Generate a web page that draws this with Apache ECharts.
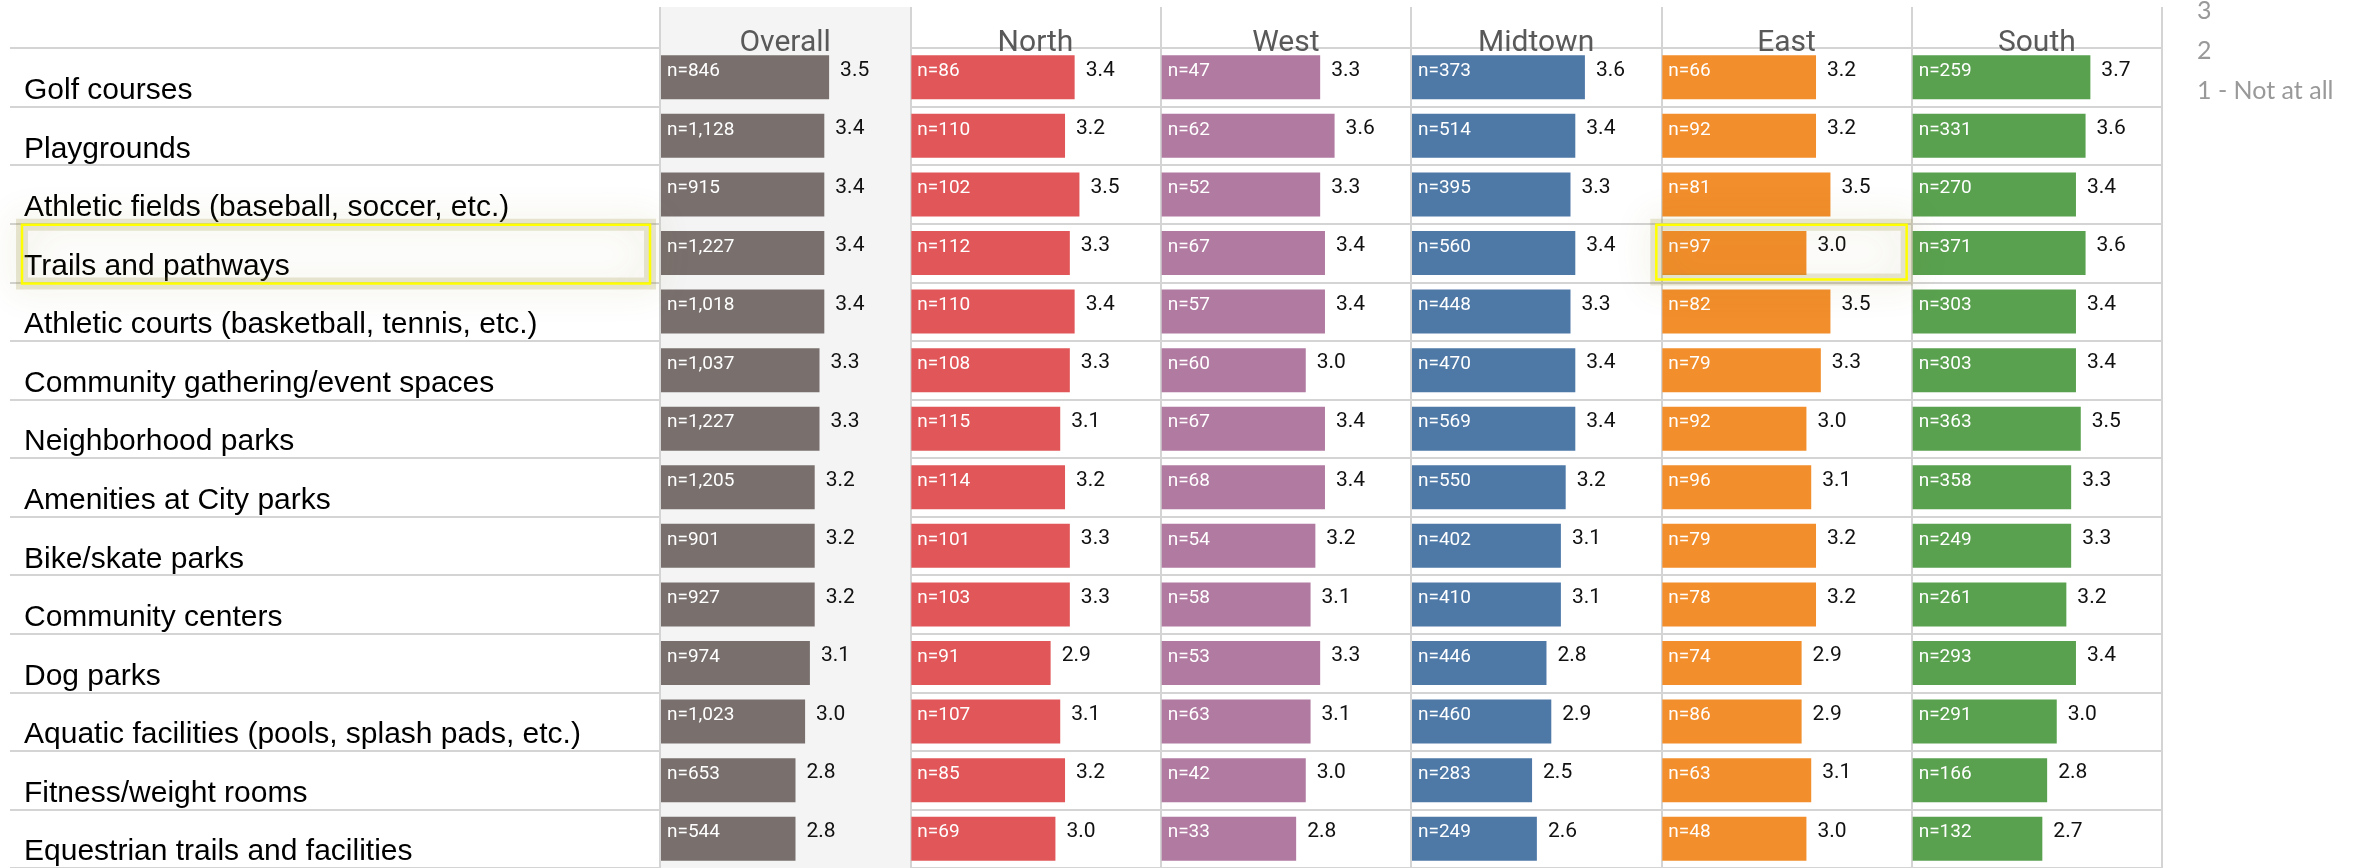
<!DOCTYPE html>
<html>
<head>
<meta charset="utf-8">
<title>Park amenities by region</title>
<script src="https://cdn.jsdelivr.net/npm/echarts@6/dist/echarts.min.js"></script>
<style>
  html, body { margin: 0; padding: 0; background: #fff; }
  #chart { width: 2379px; height: 868px; }
</style>
</head>
<body>
<div id="chart"></div>
<script>
// rows of the table
const categories = [
  'Golf courses',
  'Playgrounds',
  'Athletic fields (baseball, soccer, etc.)',
  'Trails and pathways',
  'Athletic courts (basketball, tennis, etc.)',
  'Community gathering/event spaces',
  'Neighborhood parks',
  'Amenities at City parks',
  'Bike/skate parks',
  'Community centers',
  'Dog parks',
  'Aquatic facilities (pools, splash pads, etc.)',
  'Fitness/weight rooms',
  'Equestrian trails and facilities'
];
const regions = ['Overall', 'North', 'West', 'Midtown', 'East', 'South'];

// mean ratings and respondents per region
const overallScore = [3.5, 3.4, 3.4, 3.4, 3.4, 3.3, 3.3, 3.2, 3.2, 3.2, 3.1, 3.0, 2.8, 2.8];
const overallN = [846, 1128, 915, 1227, 1018, 1037, 1227, 1205, 901, 927, 974, 1023, 653, 544];
const northScore = [3.4, 3.2, 3.5, 3.3, 3.4, 3.3, 3.1, 3.2, 3.3, 3.3, 2.9, 3.1, 3.2, 3.0];
const northN = [86, 110, 102, 112, 110, 108, 115, 114, 101, 103, 91, 107, 85, 69];
const westScore = [3.3, 3.6, 3.3, 3.4, 3.4, 3.0, 3.4, 3.4, 3.2, 3.1, 3.3, 3.1, 3.0, 2.8];
const westN = [47, 62, 52, 67, 57, 60, 67, 68, 54, 58, 53, 63, 42, 33];
const midtownScore = [3.6, 3.4, 3.3, 3.4, 3.3, 3.4, 3.4, 3.2, 3.1, 3.1, 2.8, 2.9, 2.5, 2.6];
const midtownN = [373, 514, 395, 560, 448, 470, 569, 550, 402, 410, 446, 460, 283, 249];
const eastScore = [3.2, 3.2, 3.5, 3.0, 3.5, 3.3, 3.0, 3.1, 3.2, 3.2, 2.9, 2.9, 3.1, 3.0];
const eastN = [66, 92, 81, 97, 82, 79, 92, 96, 79, 78, 74, 86, 63, 48];
const southScore = [3.7, 3.6, 3.4, 3.6, 3.4, 3.4, 3.5, 3.3, 3.3, 3.2, 3.4, 3.0, 2.8, 2.7];
const southN = [259, 331, 270, 371, 303, 303, 363, 358, 249, 261, 293, 291, 166, 132];

// rating scale legend (top is cut off in the original)
const legendLabels = ['3', '2', '1 - Not at all'];

const scores = [overallScore, northScore, westScore, midtownScore, eastScore, southScore];
const counts = [overallN, northN, westN, midtownN, eastN, southN];
const colors = ['#79706e', '#e15759', '#b07aa1', '#4e79a7', '#f28e2b', '#59a14f'];

// layout
const tableLeft = 660;
const panelW = 250.33;
const frameTop = 7;
const headTop = 48;
const rowH = 58.9;
const gridH = rowH * categories.length;
const lineColor = '#d4d4d4';

const chart = echarts.init(document.getElementById('chart'), null, { renderer: 'canvas' });

const grid = [
  // panel frame: vertical dividers, header names, grey Overall column
  { left: tableLeft, top: frameTop, width: panelW * 6, height: 868 - frameTop },
  // row labels and horizontal dividers
  { left: 10, top: headTop, width: tableLeft + panelW * 6 - 10, height: gridH }
];
const xAxis = [
  {
    gridIndex: 0, type: 'category', data: regions, position: 'top',
    axisLine: { show: false }, axisTick: { show: false },
    axisLabel: {
      interval: 0, inside: true, margin: 51, verticalAlign: 'bottom',
      fontSize: 30, fontFamily: 'Roboto', color: '#595959'
    },
    splitLine: { show: true, interval: 0, lineStyle: { color: lineColor, width: 2 } },
    splitArea: {
      show: true, interval: 0,
      areaStyle: { color: ['#f4f4f4', 'rgba(0,0,0,0)', 'rgba(0,0,0,0)', 'rgba(0,0,0,0)', 'rgba(0,0,0,0)', 'rgba(0,0,0,0)'] }
    }
  },
  { gridIndex: 1, type: 'value', show: false }
];
const yAxis = [
  { gridIndex: 0, type: 'value', show: false },
  {
    gridIndex: 1, type: 'category', data: categories, inverse: true,
    axisLine: { show: false }, axisTick: { show: false },
    axisLabel: {
      interval: 0, align: 'left', margin: -14, verticalAlign: 'top', lineHeight: 27,
      fontSize: 30, fontFamily: 'Liberation Sans', color: '#000'
    },
    splitLine: { show: true, interval: 0, lineStyle: { color: lineColor, width: 2 } }
  }
];
const series = [];

regions.forEach((region, i) => {
  const idx = i + 2;
  grid.push({ left: tableLeft + i * panelW + 1, top: headTop, width: panelW - 2, height: gridH });
  xAxis.push({ gridIndex: idx, type: 'value', min: 0, max: 5.17, show: false });
  yAxis.push({ gridIndex: idx, type: 'category', data: categories, inverse: true, show: false });

  // coloured bar with the respondent count inside
  series.push({
    type: 'bar', name: region, xAxisIndex: idx, yAxisIndex: idx,
    barWidth: 44, barGap: '-100%', silent: true,
    itemStyle: { color: colors[i] },
    label: {
      show: true, position: 'insideLeft', distance: 6, offset: [0, -6],
      fontSize: 19, fontFamily: 'Roboto', color: '#fff',
      formatter: p => 'n=' + p.data.n.toLocaleString('en-US')
    },
    data: scores[i].map((v, k) => ({ value: v, n: counts[i][k] }))
  });
  // same bar, invisible, carrying the mean label on the right
  series.push({
    type: 'bar', name: region + ' mean', xAxisIndex: idx, yAxisIndex: idx,
    barWidth: 44, barGap: '-100%', silent: true,
    itemStyle: { color: 'rgba(0,0,0,0)' },
    label: {
      show: true, position: 'right', distance: 11, offset: [0, -7],
      fontSize: 21, fontFamily: 'Roboto', color: '#111',
      formatter: p => p.value.toFixed(1)
    },
    data: scores[i]
  });
});

// yellow highlight boxes around "Trails and pathways" and its East cell
const hiRow = categories.indexOf('Trails and pathways');
const hiCol = regions.indexOf('East');
const boxes = [
  { x: 22, y: headTop + hiRow * rowH, width: tableLeft - 10 - 22, height: rowH },
  { x: tableLeft + hiCol * panelW - 5, y: headTop + hiRow * rowH, width: panelW, height: rowH - 4 }
];
const graphic = [];
boxes.forEach(b => {
  // soft olive halo
  graphic.push({
    type: 'rect', z: 99, silent: true, shape: b,
    style: {
      fill: 'none', stroke: 'rgba(150,140,45,0.2)', lineWidth: 12,
      shadowBlur: 34, shadowColor: 'rgba(120,110,20,0.75)'
    }
  });
  // yellow outline
  graphic.push({
    type: 'rect', z: 100, silent: true, shape: b,
    style: { fill: 'none', stroke: '#ffff00', lineWidth: 2.5 }
  });
});
legendLabels.forEach((t, k) => {
  graphic.push({
    type: 'text', z: 100, silent: true, x: 2197, y: 11 + k * 40,
    style: { text: t, fontSize: 25, fontFamily: 'Lato', fill: '#999', verticalAlign: 'middle' }
  });
});

chart.setOption({
  animation: false,
  backgroundColor: '#fff',
  grid: grid,
  xAxis: xAxis,
  yAxis: yAxis,
  series: series,
  graphic: graphic
});
</script>
</body>
</html>
